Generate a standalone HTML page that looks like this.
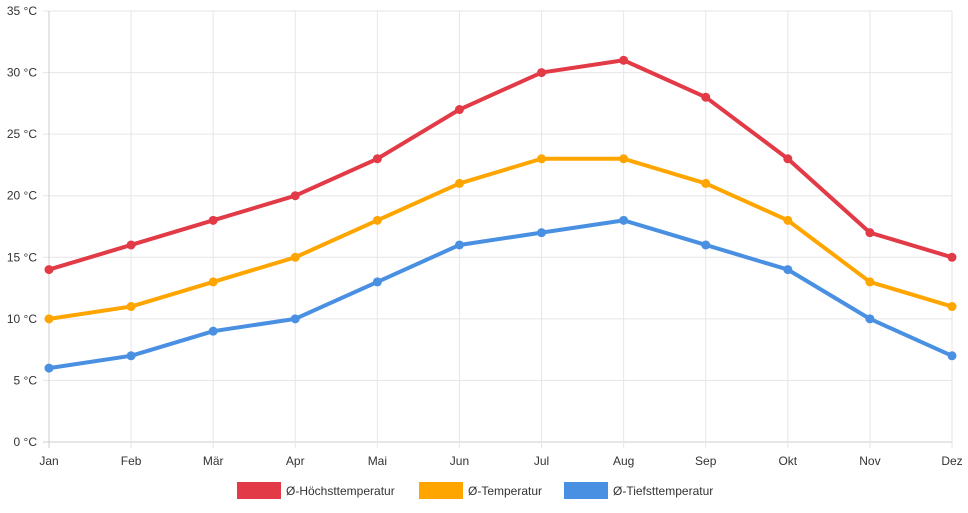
<!DOCTYPE html>
<html><head><meta charset="utf-8"><style>
body{margin:0;background:#fff;font-family:"Liberation Sans",sans-serif;}
svg text{font-family:"Liberation Sans",sans-serif;font-size:12px;fill:#333;}
</style></head><body>
<svg id="chart" width="968" height="508"></svg>
<script>
const months=["Jan","Feb","Mär","Apr","Mai","Jun","Jul","Aug","Sep","Okt","Nov","Dez"];
const highTemps=[14,16,18,20,23,27,30,31,28,23,17,15];
const avgTemps=[10,11,13,15,18,21,23,23,21,18,13,11];
const lowTemps=[6,7,9,10,13,16,17,18,16,14,10,7];
const yTicks=[0,5,10,15,20,25,30,35];
const seriesNames=["Ø-Höchsttemperatur","Ø-Temperatur","Ø-Tiefsttemperatur"];
const seriesColors=["#e23a46","#ffa500","#4a90e2"];
const svg=document.getElementById('chart');
const NS="http://www.w3.org/2000/svg";
const x0=49,x1=952,y0=442,y1=11,yMax=35;
const xs=i=>x0+i*(x1-x0)/(months.length-1);
const ys=v=>y0-v*(y0-y1)/yMax;
function mk(t,a){const e=document.createElementNS(NS,t);for(const k in a)e.setAttribute(k,a[k]);svg.appendChild(e);return e;}
yTicks.forEach(v=>{
  const l=mk('line',{x1:x0-6,x2:x1,y1:ys(v),y2:ys(v),stroke:v===0?'#ccc':'#e6e6e6','stroke-width':1});
  
  
  const t=mk('text',{x:37,y:ys(v)+4,'text-anchor':'end'});t.textContent=v+' °C';
  
  
});
months.forEach((m,i)=>{
  const l=mk('line',{x1:xs(i),x2:xs(i),y1:y1,y2:y0+6,stroke:i===0?'#ccc':'#e6e6e6','stroke-width':1});
  
  
  const t=mk('text',{x:xs(i),y:y0+23,'text-anchor':'middle'});t.textContent=m;
  
  
});
[highTemps,avgTemps,lowTemps].forEach((d,s)=>{
  const p=mk('polyline',{points:d.map((v,i)=>xs(i)+','+ys(v)).join(' '),fill:'none',stroke:seriesColors[s],'stroke-width':4,'stroke-linejoin':'round'});
  
  
  d.forEach((v,i)=>{
    const c=mk('circle',{cx:xs(i),cy:ys(v),r:4.5,fill:seriesColors[s]});
    
    
  });
});
const lx=[237,419,564];
seriesNames.forEach((n,s)=>{
  const r=mk('rect',{x:lx[s],y:482,width:44,height:17,fill:seriesColors[s]});
  
  
  const t=mk('text',{x:lx[s]+49,y:495});t.textContent=n;
  
  
});
</script>
</body></html>
